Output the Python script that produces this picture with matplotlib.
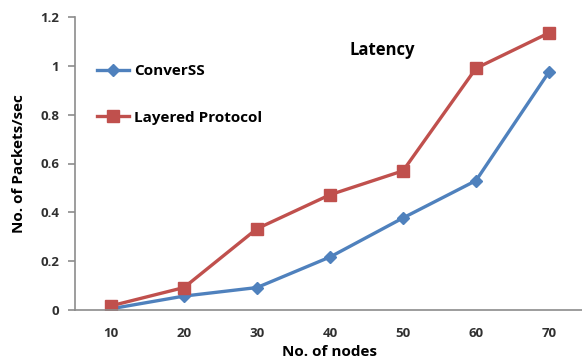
import matplotlib.pyplot as plt

nodes = ["10", "20", "30", "40", "50", "60", "70"]
converss = [0.005, 0.057, 0.092, 0.217, 0.377, 0.53, 0.975]
layered = [0.017, 0.092, 0.333, 0.472, 0.57, 0.99, 1.135]

plt.rcParams['font.family'] = ['Open Sans', 'DejaVu Sans']

fig = plt.figure(figsize=(5.82, 3.64), dpi=100)
ax = fig.add_axes([74.5/582, 1-310/364, 511/582, 293/364])

x = range(len(nodes))
ax.plot(x, converss, color='#4F81BD', lw=2.4, marker='D', ms=6.5, label='ConverSS')
ax.plot(x, layered, color='#C0504D', lw=2.4, marker='s', ms=8, label='Layered Protocol')

ax.set_xlim(-0.5, 6.5)
ax.set_ylim(0, 1.2)
ax.set_xticks(list(x))
ax.set_xticklabels(nodes)
ax.set_yticks([0, 0.2, 0.4, 0.6, 0.8, 1.0, 1.2])
ax.set_yticklabels(['0', '0.2', '0.4', '0.6', '0.8', '1', '1.2'])

for s in ['top', 'right']:
    ax.spines[s].set_visible(False)
for s in ['left', 'bottom']:
    ax.spines[s].set_color('#8c8c8c')
    ax.spines[s].set_linewidth(1.2)
ax.tick_params(axis='y', colors='#8c8c8c', length=5, width=1.2, pad=6)
ax.tick_params(axis='x', length=0, pad=12)
for lab in ax.get_xticklabels() + ax.get_yticklabels():
    lab.set_color('#303030')
    lab.set_fontweight('bold')
    lab.set_fontsize(9.5)

ax.set_xlabel('No. of nodes', fontsize=11, fontweight='bold', labelpad=4)
ax.set_ylabel('No. of Packets/sec', fontsize=11, fontweight='bold', labelpad=10)
ax.text(382/582, 1-50/364, 'Latency', transform=fig.transFigure, ha='center', va='center',
        fontsize=12, fontweight='bold')

leg = ax.legend(loc='upper left', bbox_to_anchor=(0.044, 0.84), frameon=False,
                prop={'weight': 'bold', 'size': 11}, handlelength=2.1,
                labelspacing=2.15, handletextpad=0.3, borderpad=0, borderaxespad=0)

fig.savefig('out.png', dpi=100)
